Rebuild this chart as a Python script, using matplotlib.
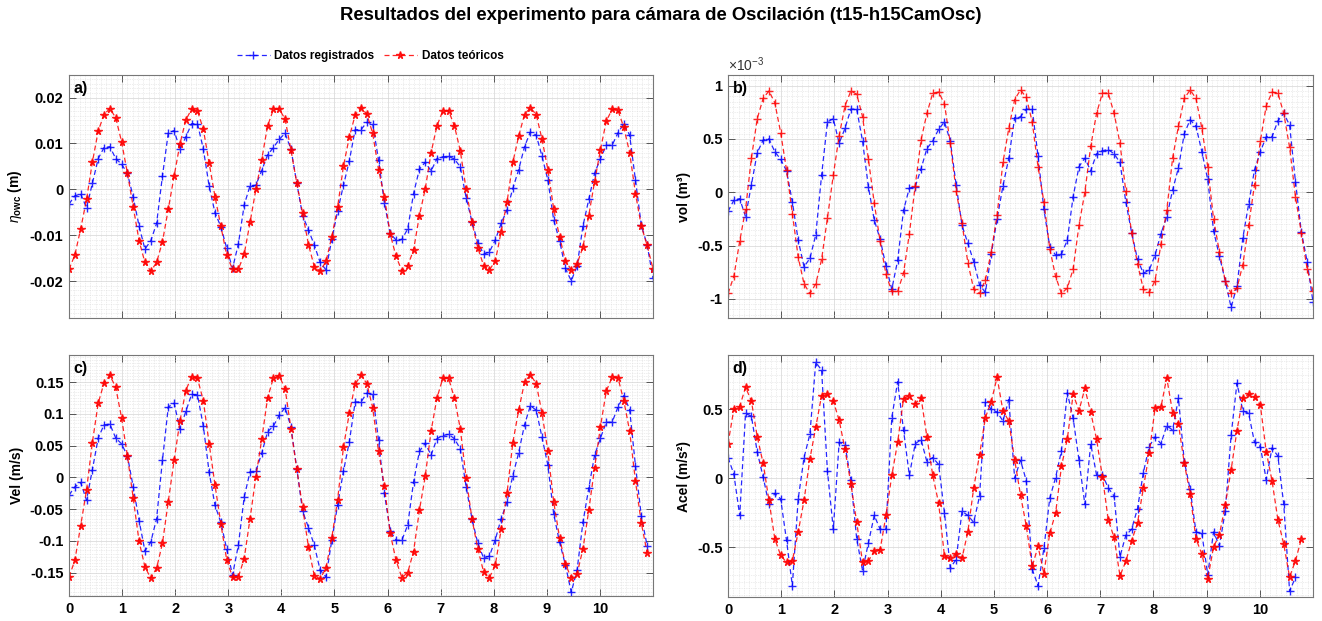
import numpy as np
import matplotlib
matplotlib.use('Agg')
import matplotlib.pyplot as plt
from matplotlib.ticker import MultipleLocator, FuncFormatter, AutoMinorLocator
from matplotlib.lines import Line2D

plt.rcParams['font.family'] = ['Liberation Sans', 'DejaVu Sans']
plt.rcParams['axes.unicode_minus'] = False
plt.rcParams['mathtext.fontset'] = 'custom'
plt.rcParams['mathtext.rm'] = 'Liberation Sans'
plt.rcParams['mathtext.it'] = 'Liberation Sans:italic'
plt.rcParams['mathtext.bf'] = 'Liberation Sans:bold'

# ---------------- data ----------------
DT = 0.11  # sampling step (s)

eta_reg = [-0.0032, -0.0014, -0.0010, -0.0040, 0.0013, 0.0067, 0.0091, 0.0093, 0.0067, 0.0055,
           0.0035, -0.0017, -0.0080, -0.0130, -0.0112, -0.0074, 0.0029, 0.0123, 0.0128, 0.0087,
           0.0114, 0.0143, 0.0143, 0.0088, 0.0007, -0.0051, -0.0081, -0.0128, -0.0172, -0.0119,
           -0.0034, 0.0008, 0.0009, 0.0041, 0.0075, 0.0091, 0.0109, 0.0122, 0.0088, 0.0014,
           -0.0057, -0.0088, -0.0121, -0.0159, -0.0175, -0.0109, -0.0047, 0.0009,
           0.0062, 0.0130, 0.0130, 0.0146, 0.0143, 0.0064, -0.0029, -0.0096, -0.0110, -0.0109,
           -0.0086, -0.0009, 0.0044, 0.0059, 0.0040, 0.0067, 0.0071, 0.0072, 0.0066, 0.0049,
           -0.0018, -0.0070, -0.0116, -0.0141, -0.0136, -0.0110, -0.0074, -0.0045, 0.0002, 0.0043,
           0.0093, 0.0125, 0.0118, 0.0072, 0.0020, -0.0067, -0.0112, -0.0172, -0.0199, -0.0167,
           -0.0080, -0.0022, 0.0035, 0.0067, 0.0096, 0.0096, 0.0123, 0.0143, 0.0118, 0.0020,
           -0.0078, -0.0121, -0.0193]
eta_teo = [-0.0174, -0.0143, -0.0086, -0.0022, 0.0059, 0.0127, 0.0163, 0.0176, 0.0156, 0.0104,
           0.0035, -0.0038, -0.0112, -0.0159, -0.0178, -0.0159, -0.0114, -0.0043, 0.0029, 0.0099,
           0.0151, 0.0175, 0.0171, 0.0131, 0.0057, -0.0016, -0.0080, -0.0143, -0.0174, -0.0174,
           -0.0141, -0.0072, 0.0000, 0.0065, 0.0138, 0.0174, 0.0175, 0.0153, 0.0086, 0.0014,
           -0.0052, -0.0120, -0.0168, -0.0178, -0.0157, -0.0103, -0.0038, 0.0051,
           0.0114, 0.0162, 0.0178, 0.0164, 0.0122, 0.0043, -0.0016, -0.0097, -0.0146, -0.0177,
           -0.0166, -0.0132, -0.0057, 0.0001, 0.0080, 0.0138, 0.0171, 0.0171, 0.0138, 0.0084,
           0.0000, -0.0072, -0.0127, -0.0166, -0.0175, -0.0156, -0.0092, -0.0028, 0.0059, 0.0116,
           0.0163, 0.0178, 0.0163, 0.0109, 0.0043, -0.0043, -0.0103, -0.0155, -0.0175, -0.0162,
           -0.0126, -0.0057, 0.0017, 0.0086, 0.0149, 0.0174, 0.0172, 0.0135, 0.0080, -0.0009,
           -0.0080, -0.0122, -0.0173]

# volume in units of 1e-3 m^3
vol_reg_e3 = [-0.18, -0.075, -0.06, -0.23, 0.07, 0.37, 0.49, 0.50, 0.38, 0.31,
              0.20, -0.09, -0.45, -0.70, -0.62, -0.40, 0.16, 0.66, 0.69, 0.46,
              0.60, 0.78, 0.78, 0.48, 0.05, -0.26, -0.44, -0.69, -0.91, -0.64,
              -0.17, 0.04, 0.05, 0.22, 0.41, 0.48, 0.59, 0.66, 0.48, 0.07,
              -0.31, -0.48, -0.65, -0.87, -0.94, -0.58, -0.25,
              0.06, 0.32, 0.70, 0.71, 0.78, 0.78, 0.34, -0.16, -0.51, -0.59,
              -0.58, -0.45, -0.04, 0.24, 0.32, 0.20, 0.36, 0.39, 0.40, 0.36,
              0.28, -0.09, -0.38, -0.63, -0.76, -0.73, -0.59, -0.39, -0.23, 0.02,
              0.23, 0.55, 0.68, 0.62, 0.38, 0.12, -0.36, -0.60, -0.83, -1.08,
              -0.88, -0.43, -0.11, 0.21, 0.38, 0.52, 0.52, 0.67, 0.74, 0.63,
              0.10, -0.37, -0.65, -1.03]
vol_teo_e3 = [-0.95, -0.79, -0.46, -0.16, 0.32, 0.69, 0.88, 0.95, 0.84, 0.56,
              0.21, -0.20, -0.61, -0.86, -0.95, -0.86, -0.63, -0.24, 0.16, 0.53,
              0.81, 0.95, 0.92, 0.71, 0.31, -0.10, -0.46, -0.77, -0.93, -0.93,
              -0.76, -0.39, 0.06, 0.49, 0.74, 0.93, 0.94, 0.83, 0.46, 0.01,
              -0.29, -0.66, -0.91, -0.95, -0.82, -0.56, -0.21,
              0.28, 0.60, 0.87, 0.96, 0.89, 0.66, 0.24, -0.09, -0.53, -0.79,
              -0.95, -0.90, -0.72, -0.31, 0.00, 0.43, 0.74, 0.93, 0.93, 0.74,
              0.46, 0.01, -0.38, -0.67, -0.91, -0.94, -0.83, -0.49, -0.17, 0.32,
              0.62, 0.88, 0.96, 0.88, 0.60, 0.24, -0.25, -0.56, -0.83, -0.95,
              -0.90, -0.68, -0.31, 0.07, 0.48, 0.81, 0.94, 0.93, 0.74, 0.42,
              -0.04, -0.38, -0.72, -0.93]

vel_reg = [-0.028, -0.015, -0.008, -0.036, 0.012, 0.062, 0.083, 0.084, 0.062, 0.053,
           0.034, -0.015, -0.068, -0.116, -0.102, -0.065, 0.027, 0.111, 0.117, 0.076,
           0.104, 0.131, 0.130, 0.081, 0.008, -0.044, -0.071, -0.113, -0.154, -0.107,
           -0.031, 0.009, 0.010, 0.038, 0.072, 0.081, 0.098, 0.110, 0.080, 0.014,
           -0.053, -0.079, -0.107, -0.146, -0.157, -0.099, -0.043, 0.010,
           0.056, 0.119, 0.119, 0.133, 0.131, 0.059, -0.025, -0.084, -0.099, -0.099,
           -0.075, -0.007, 0.041, 0.054, 0.035, 0.061, 0.066, 0.068, 0.061, 0.045,
           -0.015, -0.065, -0.104, -0.127, -0.124, -0.098, -0.065, -0.039, 0.003, 0.039,
           0.083, 0.113, 0.106, 0.063, 0.019, -0.058, -0.102, -0.138, -0.181, -0.146,
           -0.071, -0.017, 0.035, 0.062, 0.087, 0.087, 0.111, 0.129, 0.107, 0.018,
           -0.061, -0.108]
vel_teo = [-0.157, -0.131, -0.076, -0.020, 0.055, 0.117, 0.149, 0.161, 0.142, 0.094,
           0.034, -0.033, -0.101, -0.141, -0.159, -0.143, -0.104, -0.038, 0.027, 0.089,
           0.137, 0.159, 0.156, 0.121, 0.053, -0.012, -0.073, -0.130, -0.157, -0.157,
           -0.128, -0.065, 0.001, 0.060, 0.125, 0.157, 0.160, 0.140, 0.077, 0.013,
           -0.047, -0.110, -0.155, -0.160, -0.143, -0.095, -0.035, 0.048,
           0.101, 0.147, 0.161, 0.148, 0.110, 0.041, -0.013, -0.088, -0.131, -0.158,
           -0.150, -0.117, -0.052, 0.002, 0.073, 0.125, 0.156, 0.156, 0.125, 0.077,
           -0.001, -0.065, -0.113, -0.149, -0.158, -0.138, -0.082, -0.025, 0.055, 0.106,
           0.150, 0.162, 0.148, 0.101, 0.041, -0.039, -0.095, -0.137, -0.158, -0.152,
           -0.113, -0.052, 0.015, 0.080, 0.136, 0.158, 0.157, 0.121, 0.073, -0.006,
           -0.072, -0.119]

acel_reg = [0.15, 0.03, -0.27, 0.47, 0.45, 0.19, 0.01, -0.19, -0.11, -0.15,
            -0.45, -0.78, -0.15, 0.15, 0.32, 0.84, 0.785, 0.05, -0.37, 0.26,
            0.24, -0.01, -0.44, -0.67, -0.47, -0.27, -0.37, -0.37, 0.44, 0.70,
            0.35, 0.02, 0.25, 0.28, 0.12, 0.15, 0.10, -0.25, -0.65, -0.59,
            -0.24, -0.27, -0.32, -0.13, 0.55, 0.50, 0.48, 0.415, 0.57, 0.0,
            0.13, -0.02, -0.66, -0.78, -0.51, -0.145, 0.005, 0.20, 0.62, 0.435,
            0.13, -0.19, 0.25, 0.024, 0.024, -0.07, -0.13, -0.57, -0.415, -0.37,
            -0.22, 0.04, 0.23, 0.30, 0.25, 0.38, 0.35, 0.58, 0.12, -0.08,
            -0.39, -0.40, -0.70, -0.39, -0.49, -0.24, 0.31, 0.69, 0.49, 0.47,
            0.26, 0.23, -0.01, 0.22, 0.16, -0.19, -0.82, -0.72]
acel_teo = [0.25, 0.50, 0.52, 0.66, 0.56, 0.30, 0.11, -0.16, -0.44, -0.56,
            -0.61, -0.60, -0.39, -0.16, 0.14, 0.37, 0.60, 0.61, 0.56, 0.42,
            0.21, -0.04, -0.32, -0.61, -0.60, -0.53, -0.52, -0.27, 0.02, 0.26,
            0.575, 0.60, 0.54, 0.585, 0.30, 0.02, -0.18, -0.565, -0.58, -0.55,
            -0.58, -0.39, -0.07, 0.17, 0.44,
            0.556, 0.732, 0.488, 0.415, 0.133, -0.121, -0.350, -0.640, -0.495, -0.693,
            -0.399, -0.254, 0.085, 0.285, 0.609, 0.490, 0.652, 0.478, 0.283, 0.012,
            -0.302, -0.430, -0.708, -0.604, -0.454, -0.326, -0.072, 0.181, 0.507, 0.514,
            0.729, 0.476, 0.391, 0.109, -0.116, -0.440, -0.551, -0.732, -0.498, -0.411,
            -0.193, 0.060, 0.345, 0.580, 0.609, 0.587, 0.531, 0.193, -0.019, -0.302,
            -0.478, -0.717, -0.599, -0.442]

x_ticks = [0, 1, 2, 3, 4, 5, 6, 7, 8, 9, 10]
title = 'Resultados del experimento para cámara de Oscilación (t15-h15CamOsc)'
legend_labels = ['Datos registrados', 'Datos teóricos']


def tgrid(series):
    return DT * np.arange(len(series))


# ---------------- figure ----------------
W, H = 1322, 621
fig = plt.figure(figsize=(W / 100, H / 100), dpi=100)


def rect(l, r, top, bot):
    return [l / W, 1 - bot / H, (r - l) / W, (bot - top) / H]


ax_a = fig.add_axes(rect(69, 653, 75, 318))
ax_b = fig.add_axes(rect(728, 1313, 75, 318))
ax_c = fig.add_axes(rect(69, 653, 355, 596))
ax_d = fig.add_axes(rect(728, 1313, 355, 597))

BLUE = (0.0, 0.0, 1.0)
RED = (1.0, 0.0, 0.0)
fmt = FuncFormatter(lambda v, p: '%g' % round(v, 6))


def draw(ax, reg, teo, red_marker, ylim, yticks, ylabel, tag, xlabels):
    ax.plot(tgrid(reg), reg, linestyle='--', dashes=(4, 2.5), color=BLUE, lw=0.9,
            marker='+', ms=6, mew=1.0, alpha=0.85)
    ax.plot(tgrid(teo), teo, linestyle='--', dashes=(4, 2.5), color=RED, lw=0.9,
            marker=red_marker, ms=6 if red_marker == '+' else 5.5, mew=1.0, alpha=0.85)
    ax.set_xlim(0, 11)
    ax.set_ylim(*ylim)
    ax.set_xticks(x_ticks)
    ax.set_yticks(yticks)
    ax.xaxis.set_minor_locator(MultipleLocator(0.1))
    ax.yaxis.set_minor_locator(AutoMinorLocator(10))
    ax.yaxis.set_major_formatter(fmt)
    ax.xaxis.set_major_formatter(fmt)
    ax.grid(True, which='major', color='#d4d4d4', lw=0.5, ls='-')
    ax.grid(True, which='minor', color='#dcdcdc', lw=0.5, ls=(0, (1, 1.5)))
    ax.set_axisbelow(True)
    ax.tick_params(which='major', direction='in', top=True, right=True, length=5,
                   width=0.7, color='#555555', labelsize=10.5, pad=4)
    ax.tick_params(which='minor', length=0)
    if not xlabels:
        ax.tick_params(labelbottom=False)
    for lab in ax.get_xticklabels() + ax.get_yticklabels():
        lab.set_fontweight('bold')
    for s in ax.spines.values():
        s.set_color('#777777')
        s.set_linewidth(0.8)
    ax.set_ylabel(ylabel, fontsize=10, fontweight='bold', labelpad=4)
    ax.text(0.008, 0.975, tag, transform=ax.transAxes, ha='left', va='top',
            fontsize=11.5, fontweight='bold')


draw(ax_a, eta_reg, eta_teo, '*', (-0.028, 0.0249), [-0.02, -0.01, 0, 0.01, 0.02],
     r'$\eta_{\mathbf{owc}}$ (m)', 'a)', False)
draw(ax_b, vol_reg_e3, vol_teo_e3, '+', (-1.18, 1.10), [-1, -0.5, 0, 0.5, 1],
     'vol (m³)', 'b)', False)
draw(ax_c, vel_reg, vel_teo, '*', (-0.187, 0.193),
     [-0.15, -0.1, -0.05, 0, 0.05, 0.1, 0.15], 'Vel (m/s)', 'c)', True)
draw(ax_d, acel_reg, acel_teo, '*', (-0.862, 0.894), [-0.5, 0, 0.5],
     'Acel (m/s²)', 'd)', True)

ax_b.text(0.0, 1.003, r'$\times\mathregular{10^{-3}}$', transform=ax_b.transAxes,
          ha='left', va='bottom', fontsize=10, color='#333333')

fig.text(0.5, 1 - 16 / H, title, ha='center', va='center', fontsize=13.3,
         fontweight='bold')

handles = [Line2D([], [], color=BLUE, ls='--', dashes=(4, 2.5), lw=0.9, marker='+',
                  ms=6, mew=1.0, alpha=0.85),
           Line2D([], [], color=RED, ls='--', dashes=(4, 2.5), lw=0.9, marker='*',
                  ms=5.5, mew=1.0, alpha=0.85)]
fig.legend(handles, legend_labels, loc='center', bbox_to_anchor=(370 / W, 1 - 56 / H),
           ncol=2, frameon=False, prop={'weight': 'bold', 'size': 8.5},
           handlelength=2.8, handletextpad=0.4, columnspacing=0.8)

fig.savefig('out.png', dpi=100)
